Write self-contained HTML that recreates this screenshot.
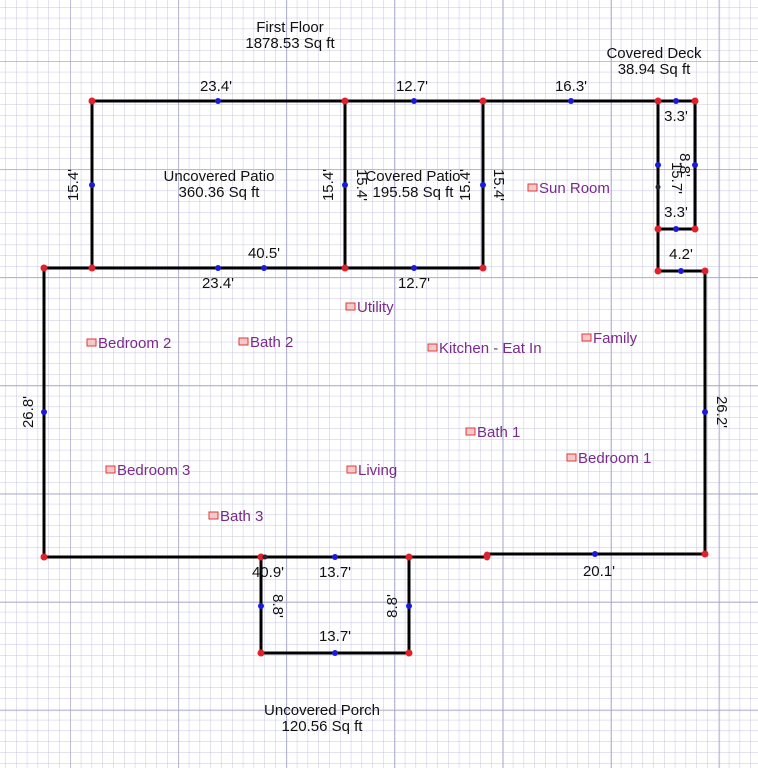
<!DOCTYPE html>
<html><head><meta charset="utf-8"><style>
html,body{margin:0;padding:0;background:#fff;}
svg{display:block;}
text{font-family:"Liberation Sans",sans-serif;font-size:15px;fill:#111;}
.r{fill:#7a2a8a;}
</style></head><body>
<svg width="758" height="768" viewBox="0 0 758 768" xmlns="http://www.w3.org/2000/svg">
<defs>
<pattern id="minor" x="-38" y="-47" width="10.8" height="10.8" patternUnits="userSpaceOnUse">
<path d="M0 0H10.8M0 0V10.8" stroke="#c4c4e0" stroke-width="1" fill="none"/>
</pattern>
<pattern id="major" x="70" y="61" width="108.2" height="108.2" patternUnits="userSpaceOnUse">
<path d="M0 0H108.2M0 0V108.2" stroke="#9c9cc4" stroke-width="1.3" fill="none"/>
</pattern>
</defs>
<rect width="758" height="768" fill="#fff"/>
<rect width="758" height="768" fill="url(#minor)"/>
<rect width="758" height="768" fill="url(#major)"/>

<g stroke="#000" stroke-width="3" fill="none" stroke-linecap="square">
<path d="M92 268V101H695V229H658V101"/>
<path d="M345 101V268M483 101V268"/>
<path d="M658 229V271H705V554H487"/>
<path d="M44 268H483M44 268V557H487"/>
<path d="M261 557V653H409V557"/>
</g>

<g fill="#e0202a">
<circle cx="92" cy="101" r="3.5"/><circle cx="345" cy="101" r="3.5"/><circle cx="483" cy="101" r="3.5"/>
<circle cx="658" cy="101" r="3.5"/><circle cx="695" cy="101" r="3.5"/><circle cx="658" cy="229" r="3.5"/>
<circle cx="695" cy="229" r="3.5"/><circle cx="658" cy="271" r="3.5"/><circle cx="705" cy="271" r="3.5"/>
<circle cx="44" cy="268" r="3.5"/><circle cx="92" cy="268" r="3.5"/><circle cx="345" cy="268" r="3.5"/>
<circle cx="483" cy="268" r="3.5"/><circle cx="44" cy="557" r="3.5"/><circle cx="261" cy="557" r="3.5"/>
<circle cx="409" cy="557" r="3.5"/><ellipse cx="487" cy="556" rx="3.5" ry="4.5"/><circle cx="705" cy="554" r="3.5"/>
<circle cx="261" cy="653" r="3.5"/><circle cx="409" cy="653" r="3.5"/>
</g>
<g fill="#1a1adc">
<circle cx="218" cy="101" r="3"/><circle cx="414" cy="101" r="3"/><circle cx="571" cy="101" r="3"/>
<circle cx="676" cy="101" r="3"/><circle cx="92" cy="185" r="3"/><circle cx="345" cy="185" r="3"/>
<circle cx="483" cy="185" r="3"/><circle cx="218" cy="268" r="3"/><circle cx="264" cy="268" r="3"/>
<circle cx="414" cy="268" r="3"/><circle cx="658" cy="165" r="3"/><circle cx="695" cy="165" r="3"/>
<circle cx="658" cy="187" r="2.5" fill="#223"/><circle cx="676" cy="229" r="3"/><circle cx="681" cy="271" r="3"/>
<circle cx="44" cy="412" r="3"/><circle cx="705" cy="412" r="3"/><circle cx="335" cy="557" r="3"/>
<circle cx="595" cy="554" r="3"/><circle cx="261" cy="606" r="3"/><circle cx="409" cy="606" r="3"/>
<circle cx="335" cy="653" r="3"/><circle cx="265" cy="557" r="2.5" fill="#223"/>
</g>

<g text-anchor="middle">
<text x="290" y="32">First Floor</text><text x="290" y="48">1878.53 Sq ft</text>
<text x="654" y="58">Covered Deck</text><text x="654" y="74">38.94 Sq ft</text>
<text x="219" y="181">Uncovered Patio</text><text x="219" y="197">360.36 Sq ft</text>
<text x="413" y="181">Covered Patio</text><text x="413" y="197">195.58 Sq ft</text>
<text x="322" y="715">Uncovered Porch</text><text x="322" y="731">120.56 Sq ft</text>

<text x="216" y="91">23.4'</text><text x="412" y="91">12.7'</text><text x="571" y="91">16.3'</text>
<text x="676" y="121">3.3'</text><text x="676" y="217">3.3'</text><text x="681" y="259">4.2'</text>
<text x="264" y="258">40.5'</text><text x="218" y="288">23.4'</text><text x="414" y="288">12.7'</text>
<text x="268" y="577">40.9'</text><text x="335" y="577">13.7'</text><text x="335" y="641">13.7'</text>
<text x="599" y="576">20.1'</text>

<text transform="translate(78 185) rotate(-90)">15.4'</text>
<text transform="translate(333 185) rotate(-90)">15.4'</text>
<text transform="translate(357 185) rotate(90)">15.4'</text>
<text transform="translate(470 185) rotate(-90)">15.4'</text>
<text transform="translate(494 185) rotate(90)">15.4'</text>
<text transform="translate(33 412) rotate(-90)">26.8'</text>
<text transform="translate(717 412) rotate(90)">26.2'</text>
<text transform="translate(273 606) rotate(90)">8.8'</text>
<text transform="translate(397 606) rotate(-90)">8.8'</text>
<text transform="translate(672 178) rotate(90)">15.7'</text>
<text transform="translate(680 165) rotate(90)">8.8'</text>
</g>

<g>
<g fill="#f4c9c9" stroke="#e03a3a" stroke-width="1">
<rect x="528" y="184" width="9" height="7"/><rect x="346" y="303" width="9" height="7"/>
<rect x="87" y="339" width="9" height="7"/><rect x="239" y="338" width="9" height="7"/>
<rect x="428" y="344" width="9" height="7"/><rect x="582" y="334" width="9" height="7"/>
<rect x="466" y="428" width="9" height="7"/><rect x="567" y="454" width="9" height="7"/>
<rect x="106" y="466" width="9" height="7"/><rect x="347" y="466" width="9" height="7"/>
<rect x="209" y="512" width="9" height="7"/>
</g>
<text class="r" x="539" y="193">Sun Room</text>
<text class="r" x="357" y="312">Utility</text>
<text class="r" x="98" y="348">Bedroom 2</text>
<text class="r" x="250" y="347">Bath 2</text>
<text class="r" x="439" y="353">Kitchen - Eat In</text>
<text class="r" x="593" y="343">Family</text>
<text class="r" x="477" y="437">Bath 1</text>
<text class="r" x="578" y="463">Bedroom 1</text>
<text class="r" x="117" y="475">Bedroom 3</text>
<text class="r" x="358" y="475">Living</text>
<text class="r" x="220" y="521">Bath 3</text>
</g>
</svg>
</body></html>
